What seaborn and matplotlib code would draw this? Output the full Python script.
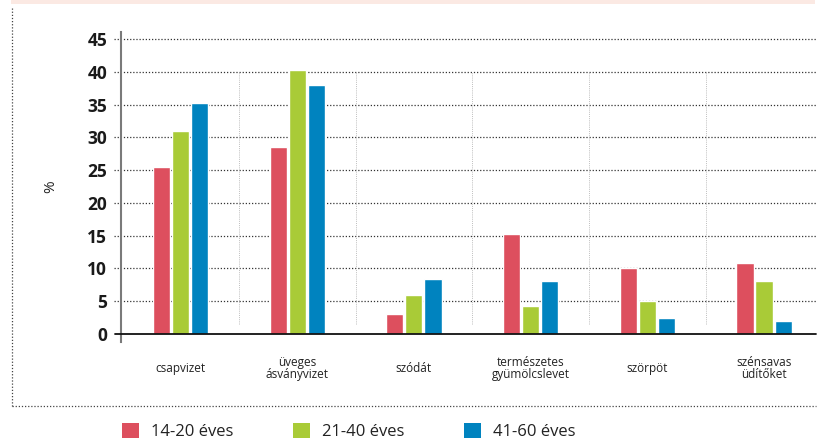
import matplotlib
matplotlib.use("Agg")
import matplotlib.pyplot as plt
from matplotlib.lines import Line2D
from matplotlib.patches import Rectangle
import seaborn as sns
import pandas as pd

# Survey data: share of respondents (%) by drink type and age group
categories = ["csapvizet", "üveges\násványvizet", "szódát",
              "természetes\ngyümölcslevet", "szörpöt", "szénsavas\nüdítőket"]
age_groups = ["14-20 éves", "21-40 éves", "41-60 éves"]
vals_14_20 = [25.5, 28.5, 3.0, 15.3, 10.1, 10.9]
vals_21_40 = [31.0, 40.2, 6.0, 4.2, 5.1, 8.1]
vals_41_60 = [35.3, 38.0, 8.4, 8.1, 2.5, 2.0]
y_ticks = [0, 5, 10, 15, 20, 25, 30, 35, 40, 45]
colors = ["#dd4f5e", "#a9cb37", "#0083bf"]

sns.set_theme(style="white")
plt.rcParams["font.family"] = ["Open Sans", "DejaVu Sans"]

rows = []
for grp, series in zip(age_groups, [vals_14_20, vals_21_40, vals_41_60]):
    for cat, v in zip(categories, series):
        rows.append({"kategória": cat, "korcsoport": grp, "érték": v})
df = pd.DataFrame(rows)

fig = plt.figure(figsize=(8.22, 4.43), dpi=100)
W, H = 822, 443
ax = fig.add_axes([121 / W, 1 - 342 / H, (817 - 121) / W, (342 - 32) / H])

sns.barplot(data=df, x="kategória", y="érték", hue="korcsoport",
            order=categories, hue_order=age_groups, palette=colors,
            width=0.49, gap=0.1, saturation=1, ax=ax, zorder=3,
            errorbar=None)

ax.set_xlim(-0.51, 5.454)
ax.set_ylim(-1.22, 46.07)

# Dotted horizontal gridlines reaching slightly past the left spine
x_left = -0.51 - 7 / 116.7
for t in y_ticks[1:]:
    ax.plot([x_left, 5.454], [t, t], color="#333333", lw=0.9,
            linestyle=(0, (1, 1.5)), clip_on=False, zorder=1)
# Zero baseline
ax.plot([-0.51 - 6 / 116.7, 5.445], [0, 0], color="#111111", lw=1.3,
        clip_on=False, zorder=4)
# Light dotted separators between categories
for i in range(len(categories) - 1):
    ax.plot([i + 0.5, i + 0.5], [1.6, 40], color="#bdbdbd", lw=0.7,
            linestyle=(0, (1, 1.2)), zorder=1)

for side in ["top", "right", "bottom"]:
    ax.spines[side].set_visible(False)
ax.spines["left"].set_color("#7a7a7a")
ax.spines["left"].set_linewidth(1.5)

ax.set_yticks(y_ticks)
ax.set_yticklabels([str(t) for t in y_ticks], fontsize=12.5,
                   fontweight="bold", color="#1a1a1a")
ax.tick_params(axis="y", length=0, pad=10)
ax.tick_params(axis="x", length=0, pad=19)
for lab in ax.get_xticklabels():
    lab.set_fontsize(8.5)
    lab.set_color("#222222")
    lab.set_linespacing(0.95)
    lab.set_verticalalignment("center")

ax.set_xlabel("")
ax.set_ylabel("%", fontsize=11, color="#222222")
ax.yaxis.set_label_coords((58 - 121) / 696, 0.5)

# Legend below the chart
ax.get_legend().remove()
handles = [Rectangle((0, 0), 1, 1, facecolor=c, edgecolor="none") for c in colors]
fig.legend(handles, age_groups, loc="center left",
           bbox_to_anchor=(122 / W, 1 - 431.5 / H), ncol=3, frameon=False,
           fontsize=12, handlelength=1.0, handleheight=1.0,
           handletextpad=0.72, columnspacing=3.6, borderpad=0,
           borderaxespad=0, labelcolor="#222222")

# Outer dotted frame and pale band on top
fig.add_artist(Line2D([12 / W, 12 / W], [1 - 8 / H, 1 - 406 / H],
                      color="#444444", lw=0.9, linestyle=(0, (1, 1.5))))
fig.add_artist(Line2D([12 / W, 816 / W], [1 - 406 / H, 1 - 406 / H],
                      color="#444444", lw=0.9, linestyle=(0, (1, 1.5))))
fig.add_artist(Rectangle((11 / W, 1 - 4 / H), (815 - 11) / W, 4 / H,
                         facecolor="#fbe9e3", edgecolor="none"))

fig.savefig("out.png", dpi=100)
